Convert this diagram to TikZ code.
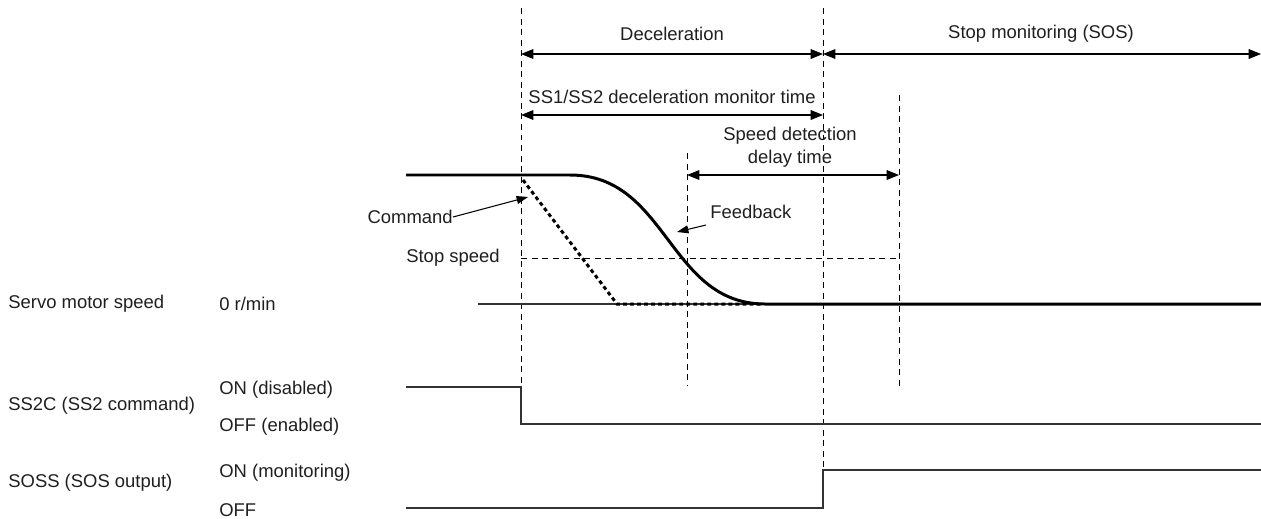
\documentclass[tikz,border=0pt]{standalone}
\usepackage{fontspec}
\setmainfont{Liberation Sans}
\usetikzlibrary{arrows.meta}
\begin{document}
\begin{tikzpicture}[
	x=0.02cm, y=-0.02cm,
	lbl/.style={ inner sep=0pt, text=black!88, font=\fontsize{10.5}{13}\selectfont },
	guide/.style={ line width=0.55pt, dash pattern=on 3.4pt off 2.6pt },
	signal/.style={ line width=0.6pt, black!80 },
	speedline/.style={ line width=1.7pt },
	cmdline/.style={ line width=1.7pt, dash pattern=on 2.2pt off 1.8pt },
	span/.style={ line width=0.6pt, {Triangle[length=7pt,width=5.5pt]}-{Triangle[length=7pt,width=5.5pt]} },
	pointer/.style={ line width=0.6pt, -{Triangle[length=6.5pt,width=4.5pt]} }
]
\useasboundingbox (0,0) rectangle (1261,518);

\coordinate (t1top) at (521,8);
\coordinate (t1bot) at (521,387);
\coordinate (t2top) at (823,8);
\coordinate (t2bot) at (823,470);
\coordinate (t3top) at (687,153);
\coordinate (t3bot) at (687,386);
\coordinate (t4top) at (899,95);
\coordinate (t4bot) at (899,386);
\draw[guide] (t1top) -- (t1bot);
\draw[guide] (t2top) -- (t2bot);
\draw[guide] (t3top) -- (t3bot);
\draw[guide] (t4top) -- (t4bot);

\coordinate (decA) at (521,54);
\coordinate (decB) at (823,54);
\coordinate (sosB) at (1261,54);
\coordinate (monA) at (521,115);
\coordinate (monB) at (823,115);
\coordinate (delA) at (687,175);
\coordinate (delB) at (899,175);
\draw[span] (decA) -- (decB);
\draw[span] (decB) -- (sosB);
\draw[span] (monA) -- (monB);
\draw[span] (delA) -- (delB);

\node[lbl] at (672,34) (dec) {Deceleration};
\node[lbl] at (1041,34) (sos) {Stop monitoring (SOS)};
\node[lbl] at (672,97) (mon) {SS1/SS2 deceleration monitor time};
\node[lbl, align=center] at (790,147) (del) {Speed detection\\delay time};

\coordinate (stopA) at (521,258);
\coordinate (stopB) at (899,258);
\draw[guide] (stopA) -- (stopB);
\node[lbl, anchor=east] at (500,258) (stop) {Stop speed};

\coordinate (zeroA) at (478,304);
\coordinate (zeroB) at (1261,304);
\draw[signal] (zeroA) -- (zeroB);

\draw[speedline] (406,175) -- (570,175) .. controls (668,175) and (668,304) .. (765,304) -- (1261,304);
\draw[cmdline] (523,180) -- (617,304) -- (762,304);

\node[lbl, anchor=east] at (453,217) (cmd) {Command};
\coordinate (cmdtip) at (528,197);
\draw[pointer] (cmd.east) -- (cmdtip);
\node[lbl, anchor=west] at (710,212) (fb) {Feedback};
\coordinate (fbtip) at (677,232);
\draw[pointer] (706,225) -- (fbtip);

\node[lbl, anchor=west] at (8,304) (spd) {Servo motor speed};
\node[lbl, anchor=west] at (219,304) (rpm) {0 r/min};
\node[lbl, anchor=west] at (8,406) (ssc) {SS2C (SS2 command)};
\node[lbl, anchor=west] at (219,390) (sscon) {ON (disabled)};
\node[lbl, anchor=west] at (219,427) (sscoff) {OFF (enabled)};
\node[lbl, anchor=west] at (8,483) (soss) {SOSS (SOS output)};
\node[lbl, anchor=west] at (219,473) (sosson) {ON (monitoring)};
\node[lbl, anchor=west] at (219,510) (sossoff) {OFF};

\draw[signal] (406,387) -- (521,387) -- (521,424) -- (1261,424);
\draw[signal] (406,508) -- (823,508) -- (823,470) -- (1261,470);

\end{tikzpicture}
\end{document}
